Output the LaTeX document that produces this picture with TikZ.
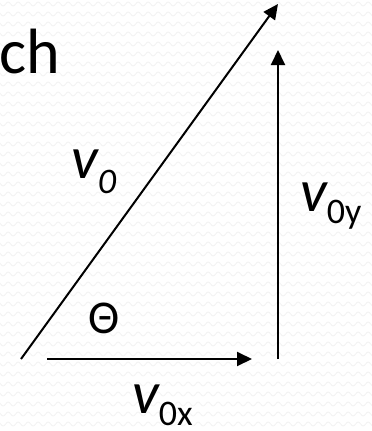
\documentclass[tikz,border=0pt]{standalone}
\usepackage{fontspec}
\setmainfont{Carlito}
\usetikzlibrary{arrows.meta, positioning, decorations.pathmorphing}
\tikzset{
    vec/.style={-{Triangle[length=15pt, width=14pt]}, line width=2pt, black},
    texture/.style={draw=black!5, line width=0.8pt, decorate, decoration={snake, segment length=10pt, amplitude=2pt}},
    lbl/.style={inner sep=0pt, anchor=base west}
}
\newcommand{\vlabel}[2]{\fontsize{60}{60}\selectfont\itshape v\raisebox{-#2pt}{\fontsize{36}{36}\selectfont #1}}

\begin{document}
\begin{tikzpicture}[x=1pt, y=-1pt]
        \useasboundingbox (0,0) rectangle (372,431);
        % faint background texture
        \foreach \row in {4,14,...,434}
            \draw [texture] (-5,\row) -- (380,\row);
        % end points of the vectors
        \coordinate (origin) at (21,359);
        \coordinate (tip) at (278,4);
        \coordinate (xstart) at (47,359);
        \coordinate (xend) at (252,359);
        \coordinate (ybase) at (278,359);
        \coordinate (ytip) at (278,50);
        \draw [vec] (origin) -- (tip);
        \draw [vec] (xstart) -- (xend);
        \draw [vec] (ybase) -- (ytip);
        % labels
        \node [lbl] (title) at (-1,73) {\fontsize{64}{64}\selectfont ch};
        \node [lbl] (v0) at (71,178) {\vlabel{\textit{0}}{15}};
        \node [lbl] (v0y) at (300,211) {\vlabel{\upshape 0y}{12}};
        \node [lbl] (v0x) at (132,413) {\vlabel{\upshape 0x}{12}};
        \node [lbl] (theta) at (88,333) {\fontsize{47}{47}\selectfont Θ};
    \end{tikzpicture}
\end{document}
